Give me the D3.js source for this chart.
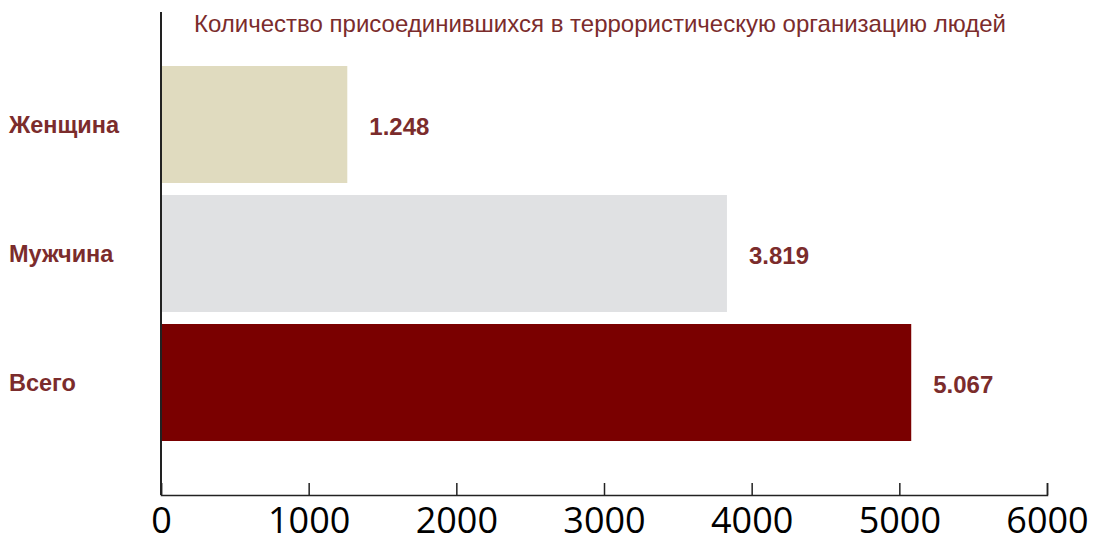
<!DOCTYPE html>
<html>
<head>
<meta charset="utf-8">
<script src="https://cdn.jsdelivr.net/npm/d3@7"></script>
<style>
  body { margin: 0; background: #fff; }
  .cat { font-family: "Liberation Sans", Arial, sans-serif; font-weight: bold; font-size: 23.5px; fill: #7b2c2c; }
  .val { font-family: "Liberation Sans", Arial, sans-serif; font-weight: bold; font-size: 24px; fill: #7b2c2c; }
  .title { font-family: "Liberation Sans", Arial, sans-serif; font-size: 24px; fill: #7b2c2c; }
  .x.axis text { font-family: "Open Sans", sans-serif; font-size: 36px; fill: #000; }
  .x.axis path, .x.axis line { stroke: #222; stroke-width: 1.5px; }
</style>
</head>
<body>
<svg width="1093" height="535"></svg>
<script>
var categories = ['Женщина', 'Мужчина', 'Всего'];
var values = [1248, 3819, 5067];
var valueLabels = ['1.248', '3.819', '5.067'];
var colors = ['#e0dbbf', '#e0e1e3', '#7a0000'];
var xTicks = [0, 1000, 2000, 3000, 4000, 5000, 6000];
var title = 'Количество присоединившихся в террористическую организацию людей';

var svg = d3.select('svg');

var xScale = d3.scaleLinear().domain([0, 6000]).range([161, 1047]);
var yScale = d3.scaleBand().domain(categories).range([60, 447])
    .paddingInner(0.093).paddingOuter(0.0465);

var axisY = 495;

// bars
categories.forEach(function(c, i) {
    svg.append('rect')
        .attr('x', xScale(0) + 1)
        .attr('y', yScale(c))
        .attr('width', xScale(values[i]) - xScale(0) + 1)
        .attr('height', yScale.bandwidth())
        .style('fill', colors[i]);

    svg.append('text')
        .attr('class', 'cat')
        .attr('x', 9)
        .attr('y', yScale(c) + yScale.bandwidth() / 2)
        .attr('dy', '0.35em')
        .text(c);

    svg.append('text')
        .attr('class', 'val')
        .attr('x', xScale(values[i]) + 24)
        .attr('y', yScale(c) + yScale.bandwidth() / 2 + 2)
        .attr('dy', '0.35em')
        .text(valueLabels[i]);
});

// x axis, ticks pointing up
var xAxis = d3.axisBottom(xScale).tickValues(xTicks).tickSize(-12).tickPadding(12)
    .tickFormat(d3.format('d'));
var gx = svg.append('g')
    .attr('class', 'x axis')
    .attr('transform', 'translate(0,' + axisY + ')')
    .call(xAxis);
gx.selectAll('text').attr('dy', '0.71em');

// y axis line
svg.append('line')
    .attr('x1', xScale(0)).attr('x2', xScale(0))
    .attr('y1', 12).attr('y2', axisY)
    .style('stroke', '#222').style('stroke-width', 2);

svg.append('text')
    .attr('class', 'title')
    .attr('x', 600)
    .attr('y', 32)
    .attr('text-anchor', 'middle')
    .text(title);
</script>
</body>
</html>
